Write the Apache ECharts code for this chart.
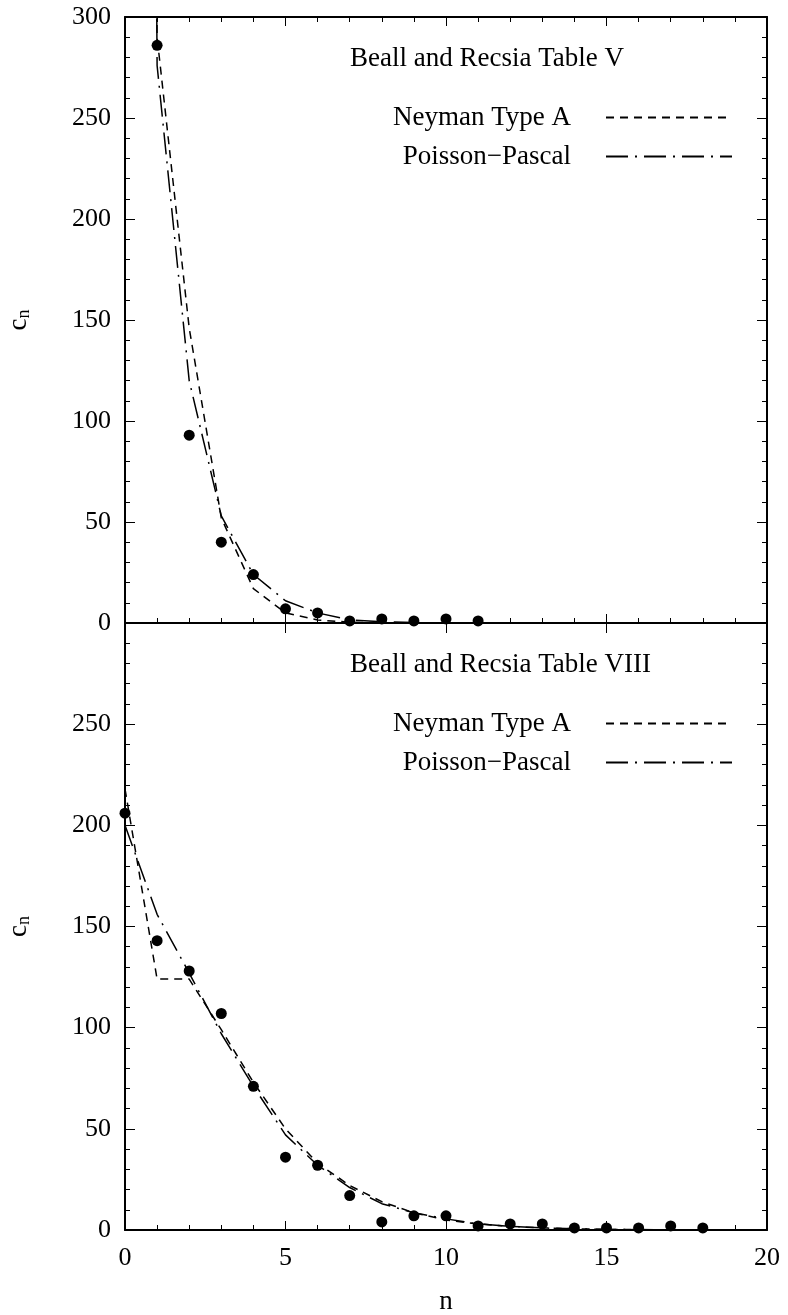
<!DOCTYPE html>
<html><head><meta charset="utf-8">
<script src="https://cdn.jsdelivr.net/npm/echarts@6/dist/echarts.min.js"></script>
<style>html,body{margin:0;padding:0;background:#fff;} #chart{width:788px;height:1315px;}</style>
</head><body><div id="chart"></div>
<script>
// ---- data ----
const xTicks = [0, 5, 10, 15, 20];
const yTicks = [0, 50, 100, 150, 200, 250, 300];

// Table V (top panel)
const nTopFit = [0, 1, 2, 3, 4, 5, 6, 7, 8, 9, 10, 11];
const neymanTop = [2500, 290, 146, 52, 17, 5, 1.5, 0.4, 0.1, 0, 0, 0];
const pascalTop = [2500, 276, 120, 53, 24, 11, 5, 1.5, 0.6, 0.2, 0.1, 0];
const nTopObs = [1, 2, 3, 4, 5, 6, 7, 8, 9, 10, 11];
const obsTop = [286, 93, 40, 24, 7, 5, 1, 2, 1, 2, 1];

// Table VIII (bottom panel)
const nBot = [0, 1, 2, 3, 4, 5, 6, 7, 8, 9, 10, 11, 12, 13, 14, 15, 16, 17, 18];
const neymanBot = [218, 124, 124, 99, 73, 50, 33, 22, 14, 8.5, 5, 3, 1.8, 1, 0.6, 0.3, 0.2, 0.1, 0.05];
const pascalBot = [200, 156, 127, 97, 71, 47, 32, 21, 13, 8.5, 5.5, 3, 1.8, 1, 0.6, 0.3, 0.2, 0.1, 0.05];
const obsBot = [206, 143, 128, 107, 71, 36, 32, 17, 4, 7, 7, 2, 3, 3, 1, 1, 1, 2, 1];

const titles = ['Beall and Recsia Table V', 'Beall and Recsia Table VIII'];
const legendNames = ['Neyman Type A', 'Poisson\u2212Pascal'];

// ---- chart ----
const FONT = '"Liberation Serif", "Times New Roman", serif';
const zip = (xs, ys) => xs.map((x, i) => [x, ys[i]]);
const xMin = xTicks[0], xMax = xTicks[xTicks.length - 1], xStep = xTicks[1] - xTicks[0];
const yMin = yTicks[0], yMax = yTicks[yTicks.length - 1], yStep = yTicks[1] - yTicks[0];

const black = '#000';
function xAxis(grid, position, opts) {
  return Object.assign({
    type: 'value', gridIndex: grid, position: position,
    min: xMin, max: xMax, interval: xStep,
    axisLine: { show: true, onZero: false, lineStyle: { color: black, width: 2 } },
    axisTick: { show: true, inside: true, length: 9, lineStyle: { color: black, width: 1 } },
    minorTick: { show: true, splitNumber: 5, length: 5, lineStyle: { color: black, width: 1 } },
    splitLine: { show: false }, minorSplitLine: { show: false },
    axisLabel: { show: false }
  }, opts || {});
}
function yAxis(grid, position, opts) {
  return Object.assign({
    type: 'value', gridIndex: grid, position: position,
    min: yMin, max: yMax, interval: yStep,
    axisLine: { show: true, onZero: false, lineStyle: { color: black, width: 2 } },
    axisTick: { show: true, inside: true, length: 10, lineStyle: { color: black, width: 1 } },
    minorTick: { show: true, splitNumber: 5, length: 5, lineStyle: { color: black, width: 1 } },
    splitLine: { show: false }, minorSplitLine: { show: false },
    axisLabel: { show: false }
  }, opts || {});
}
const labelStyle = { show: true, fontFamily: FONT, fontSize: 26, color: black, margin: 14 };
const cnName = {
  name: '{c|c}{s|n}', nameLocation: 'middle', nameRotate: 90, nameGap: 92,
  nameTextStyle: { color: black, fontFamily: FONT,
    rich: { c: { fontSize: 27, fontFamily: FONT, color: black },
            s: { fontSize: 18, fontFamily: FONT, color: black, padding: [11, 0, 0, 0] } } }
};

const dashed = [8, 6];
const dashDot = [22, 7, 2, 7];

function lineSeries(name, xs, ys, ai, dash) {
  return { type: 'line', name: name, xAxisIndex: ai, yAxisIndex: ai, data: zip(xs, ys),
    symbol: 'none', clip: true, z: 2,
    itemStyle: { color: black },
    lineStyle: { color: black, width: 1.5, type: dash } };
}
function obsSeries(xs, ys, ai) {
  return { type: 'scatter', name: 'Observed', xAxisIndex: ai, yAxisIndex: ai, data: zip(xs, ys),
    symbol: 'circle', symbolSize: 11, itemStyle: { color: black, opacity: 1 }, z: 3, clip: false };
}
function legend(top) {
  return { data: legendNames, orient: 'vertical', right: 55, top: top, align: 'right',
    itemWidth: 126, itemHeight: 27, itemGap: 12, selectedMode: false, padding: 0,
    itemStyle: { opacity: 0 },
    textStyle: { fontFamily: FONT, fontSize: 27, color: black, padding: [0, 30, 0, 0] } };
}
const titleStyle = { fontFamily: FONT, fontSize: 27, fontWeight: 'normal', color: black };

const option = {
  animation: false,
  backgroundColor: '#fff',
  title: [
    { text: titles[0], left: 350, top: 45, padding: 0, textStyle: titleStyle },
    { text: titles[1], left: 350, top: 651, padding: 0, textStyle: titleStyle }
  ],
  legend: [legend(104), legend(710)],
  grid: [
    { left: 125, top: 17, width: 642, height: 606, outerBoundsMode: 'none', containLabel: false },
    { left: 125, top: 623, width: 642, height: 607, outerBoundsMode: 'none', containLabel: false }
  ],
  xAxis: [
    xAxis(0, 'bottom'),
    xAxis(0, 'top'),
    xAxis(1, 'bottom', { axisLabel: Object.assign({}, labelStyle, { margin: 15 }),
      name: 'n', nameLocation: 'middle', nameGap: 58,
      nameTextStyle: { fontFamily: FONT, fontSize: 27, color: black } }),
    xAxis(1, 'top', { minorTick: { show: false }, axisTick: { show: true, inside: true, length: 10, lineStyle: { color: black, width: 1 } } })
  ],
  yAxis: [
    yAxis(0, 'left', Object.assign({ axisLabel: labelStyle }, cnName)),
    yAxis(0, 'right'),
    yAxis(1, 'left', Object.assign({ axisLabel: Object.assign({}, labelStyle, { showMaxLabel: false }) }, cnName)),
    yAxis(1, 'right')
  ],
  series: [
    lineSeries(legendNames[0], nTopFit, neymanTop, 0, dashed),
    lineSeries(legendNames[1], nTopFit, pascalTop, 0, dashDot),
    obsSeries(nTopObs, obsTop, 0),
    lineSeries(legendNames[0], nBot, neymanBot, 2, dashed),
    lineSeries(legendNames[1], nBot, pascalBot, 2, dashDot),
    obsSeries(nBot, obsBot, 2)
  ]
};
const chart = echarts.init(document.getElementById('chart'));
chart.setOption(option);
</script>
</body></html>
